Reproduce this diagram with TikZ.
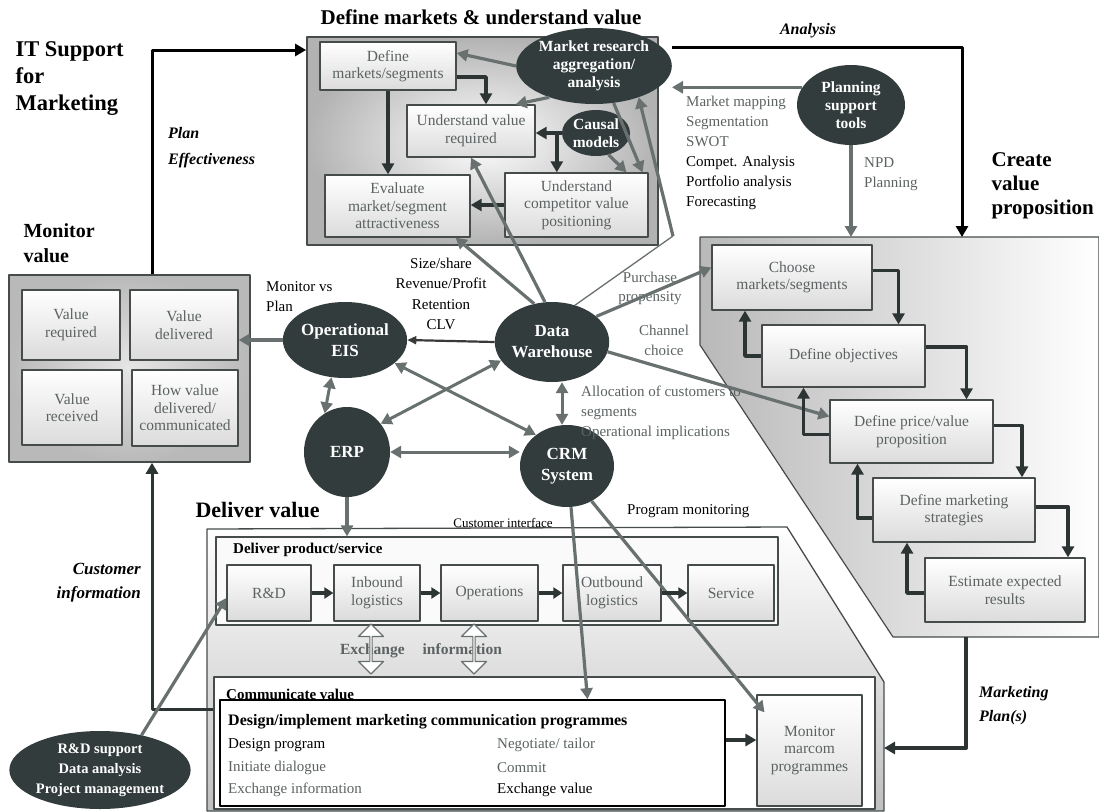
\documentclass[tikz,border=0pt]{standalone}
\usepackage{fontspec}
\setmainfont{Liberation Serif}
\usetikzlibrary{arrows.meta,shapes.geometric,shapes.arrows}
\definecolor{blobfill}{RGB}{50,60,60}
\definecolor{arrgrey}{RGB}{105,112,112}
\definecolor{arrdark}{RGB}{45,52,52}
\definecolor{txtgrey}{RGB}{92,98,98}
\definecolor{framegrey}{RGB}{70,76,76}
\newcommand{\setsz}[2]{\fontsize{#1}{#2}\selectfont}
\begin{document}
\begin{tikzpicture}[x=1pt, y=-1pt, line join=round, >={Triangle[length=11pt,width=12pt]},
  box/.style={draw=framegrey, line width=1.3pt, top color=white, bottom color=gray!28, text=txtgrey, align=center, font=\setsz{15.5}{17.5}, inner sep=1pt},
  blob/.style={ellipse, fill=blobfill, text=white, align=center, font=\bfseries\setsz{15.5}{18}, inner sep=0pt},
  head/.style={font=\bfseries\setsz{21}{24}, align=left},
  lab/.style={font=\setsz{15}{20}, align=left, inner sep=1pt},
  glab/.style={lab, text=txtgrey},
  note/.style={font=\bfseries\itshape\setsz{16}{26}, align=left, inner sep=1pt},
  garr/.style={->, draw=arrgrey, line width=3.2pt},
  darr/.style={->, draw=arrdark, line width=3.8pt},
  karr/.style={->, draw=black, line width=3pt},
  dbl/.style={<->, draw=arrgrey, line width=3pt},
  xarr/.style={double arrow, rotate=90, draw=arrgrey, fill=white, line width=1.2pt, minimum height=50pt, minimum width=25pt, double arrow head extend=6pt, inner sep=0pt}]
\useasboundingbox (0,0) rectangle (1099,811);

% areas
\node[draw=framegrey, line width=1.8pt, inner color=white, outer color=gray!60, minimum width=351pt, minimum height=208pt] (defbox) at (482.5,141) {};
\draw[draw=framegrey, line width=1.2pt, left color=gray!55, right color=white] (700,237) -- (1099,237) -- (1099,637) -- (893,637) -- (700,345) -- cycle;
\coordinate (cvtop) at (962,237);
\coordinate (cvbot) at (966,637);
\draw[draw=framegrey, line width=1.3pt, top color=white, bottom color=gray!50] (207,529) -- (787,527) -- (884,682) -- (884,811) -- (207,811) -- cycle;
\coordinate (dvright) at (884,748);
\node[draw=framegrey, line width=1.5pt, inner color=gray!20, outer color=gray!55, minimum width=241pt, minimum height=187pt] (monbox) at (129.5,368.5) {};

% headings
\node[head, font=\bfseries\setsz{22.5}{27}, anchor=west] (title) at (12,79) {IT Support\\for\\Marketing};
\node[head, font=\bfseries\setsz{20}{25}, anchor=west] (monttl) at (20,243) {Monitor\\value};
\node[head] (defttl) at (481,17) {Define markets \& understand value};
\node[head, anchor=west] (crettl) at (988,186) {Create\\value\\proposition};
\node[head, font=\bfseries\setsz{22}{26}, anchor=west] (delttl) at (192,510) {Deliver value};

% define markets
\node[box, minimum width=136pt, minimum height=48pt] (dms) at (388,66) {Define\\markets/segments};
\node[box, minimum width=128pt, minimum height=52pt] (uvr) at (471,131) {Understand value\\required};
\node[box, minimum width=145pt, minimum height=62pt] (ema) at (397.5,206) {Evaluate\\market/segment\\attractiveness};
\node[box, minimum width=143pt, minimum height=64pt] (ucv) at (576.5,205) {Understand\\competitor value\\positioning};
\node[blob, minimum width=124pt, minimum height=76pt] (mra) at (594,66) {Market research\\aggregation/\\analysis};
\node[blob, minimum width=68pt, minimum height=46pt] (cm) at (596,133) {Causal\\models};
\node[blob, minimum width=108pt, minimum height=80pt] (pst) at (851,105) {Planning\\support\\tools};

% monitor value
\node[box, minimum width=98pt, minimum height=70pt] (vreq) at (71,325) {Value\\required};
\node[box, minimum width=108pt, minimum height=70pt] (vdel) at (184,325) {Value\\delivered};
\node[box, minimum width=100pt, minimum height=75pt] (vrec) at (72,407.5) {Value\\received};
\node[box, minimum width=106pt, minimum height=76pt] (hvd) at (185,408) {How value\\delivered/\\communicated};

% systems
\node[blob, minimum width=116pt, minimum height=76pt, font=\bfseries\setsz{17}{21}] (eis) at (345,340) {Operational\\EIS};
\node[blob, minimum width=110pt, minimum height=80pt, font=\bfseries\setsz{17}{21}] (dw) at (552,342) {Data\\Warehouse};
\node[blob, minimum width=86pt, minimum height=90pt, font=\bfseries\setsz{17}{21}] (erp) at (347,452) {ERP};
\node[blob, minimum width=94pt, minimum height=82pt, font=\bfseries\setsz{17}{21}] (crm) at (567,466) {CRM\\System};
\node[blob, minimum width=145pt, minimum height=78pt, font=\bfseries\setsz{14.5}{20}] (rds) at (100,770) {R\&D support\\Data analysis\\Project management};

% create value proposition
\node[box, minimum width=160pt, minimum height=65pt] (cms) at (792,277.5) {Choose\\markets/segments};
\node[box, minimum width=163pt, minimum height=62pt] (dob) at (843.5,356) {Define objectives};
\node[box, minimum width=163pt, minimum height=63pt] (dpv) at (911.5,431.5) {Define price/value\\proposition};
\node[box, minimum width=162pt, minimum height=64pt] (strat) at (954,510) {Define marketing\\strategies};
\node[box, minimum width=160pt, minimum height=64pt] (eer) at (1005,590) {Estimate expected\\results};

% deliver value
\node[draw=framegrey, line width=1.3pt, fill=white!96!gray, minimum width=562pt, minimum height=88pt] (prodbox) at (497,581) {};
\node[lab, font=\bfseries\setsz{15}{17}, anchor=west] (dps) at (232,550) {Deliver product/service};
\node[box, minimum width=84pt, minimum height=56pt] (rd) at (269,593) {R\&D};
\node[box, minimum width=86pt, minimum height=56pt] (inb) at (377,593) {Inbound\\logistics};
\node[box, minimum width=97pt, minimum height=56pt] (ops) at (489.5,593) {Operations};
\node[box, minimum width=98pt, minimum height=56pt] (outb) at (612,593) {Outbound\\logistics};
\node[box, minimum width=86pt, minimum height=56pt] (serv) at (731,593) {Service};
\node[font=\bfseries\setsz{15.5}{17}, text=txtgrey] (xinfo) at (421,651) {Exchange\hspace{18pt}information};
\node[xarr] (xa1) at (371,649) {};
\node[xarr] (xa2) at (474,649) {};
\node[draw=framegrey, line width=1.3pt, fill=white, minimum width=661pt, minimum height=132pt] (comm) at (544.5,743) {};
\node[lab, font=\bfseries\setsz{15}{17}, anchor=west] (cvttl) at (225,694) {Communicate value};
\node[draw=black, line width=1.6pt, fill=white, minimum width=505pt, minimum height=106pt] (dsgn) at (472.5,753) {};
\node[lab, font=\bfseries\setsz{16}{18}, anchor=west] (dimc) at (227,722) {Design/implement marketing communication programmes};
\node[lab, anchor=west] (c1) at (227,745) {Design program};
\node[glab, anchor=west] (c2) at (227,768) {Initiate dialogue};
\node[glab, anchor=west] (c3) at (227,790) {Exchange information};
\node[glab, anchor=west] (c4) at (496,745) {Negotiate/ tailor};
\node[glab, anchor=west] (c5) at (496,768) {Commit};
\node[lab, anchor=west] (c6) at (496,790) {Exchange value};
\node[box, minimum width=105pt, minimum height=111pt] (mmp) at (809.5,750.5) {Monitor\\marcom\\programmes};

% labels
\node[note, anchor=west] (planeff) at (167,148) {Plan\\Effectiveness};
\node[note] (anal) at (808,31) {Analysis};
\node[note, font=\bfseries\itshape\setsz{17}{24}, align=right, anchor=east] (custinfo) at (142,583) {Customer\\information};
\node[note, font=\bfseries\itshape\setsz{16}{24}, anchor=west] (mplan) at (978,706) {Marketing\\Plan(s)};
\node[lab, anchor=west] (tools) at (685,153) {\textcolor{txtgrey}{Market mapping}\\\textcolor{txtgrey}{Segmentation}\\\textcolor{txtgrey}{SWOT}\\Compet. Analysis\\Portfolio analysis\\Forecasting};
\node[glab, anchor=west] (npd) at (863,174) {NPD\\Planning};
\node[lab, anchor=west] (mvp) at (265,297) {Monitor vs\\Plan};
\node[lab, align=center, font=\setsz{15}{20.5}] (kpi) at (441,294) {Size/share\\Revenue/Profit\\Retention\\CLV};
\node[glab, align=center, font=\setsz{15}{19}] (prop) at (650,288) {Purchase\\propensity};
\node[glab, align=center] (chan) at (664,340) {Channel\\choice};
\node[glab, anchor=west] (alloc) at (580,413) {Allocation of customers to\\segments\\Operational implications};
\node[lab, font=\setsz{13}{15}] (custif) at (503,523) {Customer interface};
\node[lab, anchor=west] (progmon) at (626,511) {Program monitoring};

% connectors
\draw[karr] ([xshift=22.5pt]monbox.north) |- ([yshift=91pt]defbox.west);
\draw[karr] ([yshift=19pt]mra.east) -| (cvtop);
\draw[garr] (pst.south) -- (pst.south |- cvtop);
\draw[garr] (pst.160) -- (pst.160 -| mra.east);
\draw[->, draw=arrdark, line width=3pt] ([yshift=34pt]comm.west) -| ([xshift=22.5pt]monbox.south);

\draw[darr] ([yshift=-11pt]dms.east) -| ([xshift=15pt]uvr.north);
\draw[darr] (dms.south) -- (dms.south |- ema.north);
\draw[darr] (cm.west) -- (cm.west -| uvr.east);
\draw[darr] ([xshift=-5pt]cm.west) -- ([xshift=-5pt]cm.west |- ucv.north);
\draw[darr] (ucv.west) -- (ucv.west -| ema.east);
\draw[garr] (mra.west) -- ([yshift=13pt]dms.east);
\draw[garr] (mra.215) -- ([xshift=-20pt]uvr.north east);
\draw[garr] (cm.-60) -- ([xshift=50pt]ucv.north);
\draw[garr] (mra.-62) -- ([xshift=66pt]ucv.north);
\coordinate (dwbend) at (673,236);
\draw[draw=arrgrey, line width=1.3pt] (dw.58) -- (dwbend);
\draw[garr] (dwbend) -- (mra.-35);

\draw[garr] (eis.west) -- (eis.west -| vdel.east);
\draw[->, draw=gray!45!black, line width=2.2pt, >={Triangle[length=9pt,width=8pt]}] (dw.west) -- (eis.east);
\draw[dbl] (eis.-110) -- (erp.120);
\draw[dbl] (erp.40) -- (dw.-160);
\draw[dbl] (eis.-25) -- (crm.135);
\draw[dbl] (erp.east) -- (erp.east -| crm.west);
\draw[dbl] ([xshift=10pt]dw.south) -- ([xshift=-5pt]crm.north);
\draw[garr] (dw.115) -- ([xshift=-15pt]ema.south east);
\draw[garr] (dw.100) -- (uvr.south);
\draw[garr] (dw.30) -- ([yshift=10pt]cms.west);
\draw[garr] (dw.-10) -- ([yshift=15pt]dpv.west);

\draw[darr] ([yshift=7pt]cms.east) -| ([xshift=55pt]dob.north);
\draw[darr] (dob.west) -| ([xshift=-47pt]cms.south);
\draw[darr] ([yshift=9pt]dob.east) -| ([xshift=55pt]dpv.north);
\draw[darr] ([yshift=-3pt]dpv.west) -| ([xshift=-40pt]dob.south);
\draw[darr] ([yshift=6pt]dpv.east) -| ([xshift=68pt]strat.north);
\draw[darr] ([yshift=-8pt]strat.west) -| ([xshift=-54pt]dpv.south);
\draw[darr] ([yshift=3pt]strat.east) -| ([xshift=63pt]eer.north);
\draw[darr] ([yshift=-3pt]eer.west) -| ([xshift=-47pt]strat.south);

\draw[garr] (erp.south) -- (erp.south |- prodbox.north);
\draw[garr] ([xshift=4pt]crm.south) -- ([xshift=115pt]dsgn.north);
\draw[garr] (crm.-55) -- ([xshift=-45pt,yshift=-18pt]mmp.north);
\foreach \a/\b in {rd/inb, inb/ops, ops/outb, outb/serv}
  \draw[darr, line width=4pt, >={Triangle[length=9pt,width=11pt]}] (\a) -- (\b);
\draw[darr] ([yshift=13pt]dsgn.east) -- ([yshift=13pt]dsgn.east -| mmp.west);
\draw[darr] (cvbot) |- (dvright);
\draw[garr] (rds.40) -- ([yshift=-5pt]rd.west);
\end{tikzpicture}
\end{document}
